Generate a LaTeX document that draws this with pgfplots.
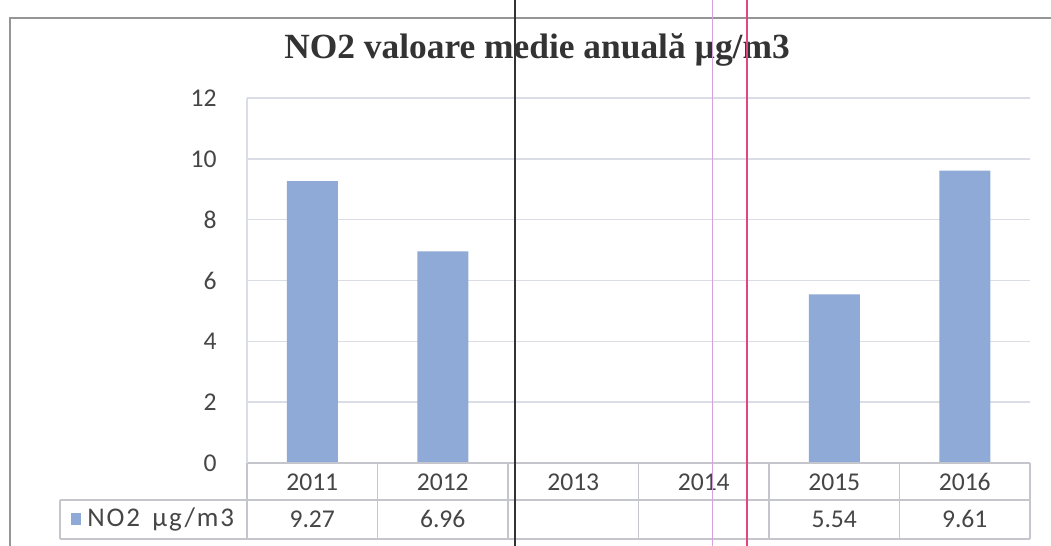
\documentclass[border=0pt]{standalone}
\usepackage{pgfplots}
\pgfplotsset{compat=1.18}
\usepackage{fontspec}
\setmainfont{Carlito}
\newfontfamily\titlefont{Liberation Serif}
\newfontfamily\legfont[LetterSpace=7]{Carlito}
\definecolor{barblue}{RGB}{143,170,214}
\definecolor{gridc}{RGB}{218,221,230}
\definecolor{tablec}{RGB}{196,198,204}
\definecolor{txt}{RGB}{70,70,70}
\definecolor{frame}{RGB}{150,150,150}
\definecolor{scanA}{RGB}{215,160,225}
\definecolor{scanB}{RGB}{225,70,130}
\begin{document}
\begin{tikzpicture}[x=1pt,y=1pt]
\clip (0,0) rectangle (525.5,273);
\fill[white] (0,0) rectangle (525.5,273);
% outer chart frame
\draw[frame, line width=0.9pt] (5,-10) -- (5,264) -- (540,264);
% title
\node[anchor=base, text=black!80, inner sep=0pt] at (268.5,243.5)
  {\titlefont\bfseries\fontsize{17.7}{20}\selectfont NO2 valoare medie anuală µg/m3};
\begin{axis}[
  at={(123.5pt,41.5pt)}, anchor=south west,
  scale only axis, width=391.5pt, height=182.5pt,
  xmin=-0.5, xmax=5.5, ymin=0, ymax=12,
  ytick={0,2,...,12},
  xtick={0,...,5}, xticklabels={2011,2012,2013,2014,2015,2016},
  major tick length=0pt,
  axis line style={draw=none},
  ymajorgrids, grid style={gridc, line width=0.7pt},
  /pgf/number format/assume math mode=true,
  ticklabel style={font=\fontsize{12.8}{14}\selectfont, text=txt},
  yticklabel style={anchor=east, inner sep=0pt, xshift=-15pt},
  xticklabel style={anchor=center, inner sep=0pt, yshift=-9.5pt},
  clip=false,
]
\addplot[ybar, bar width=25.5pt, fill=barblue, draw=none]
  coordinates {(0,9.27) (1,6.96) (4,5.54) (5,9.61)};
\addplot[draw=none, mark=none, nodes near coords, point meta=explicit symbolic,
  nodes near coords style={anchor=center, yshift=-28pt, inner sep=0pt,
    font=\fontsize{12.8}{14}\selectfont, text=txt}]
  coordinates {(0,0) [9.27] (1,0) [6.96] (4,0) [5.54] (5,0) [9.61]};
\end{axis}
% data table lines
\begin{scope}[tablec, line width=0.7pt]
\draw (123.5,41.5) -- (515,41.5);
\draw (30,23) -- (515,23);
\draw (30,3.5) -- (515,3.5);
\draw (30,3.5) -- (30,23);
\foreach \x in {123.5,188.75,254,319.25,384.5,449.75,515}
  \draw (\x,3.5) -- (\x,41.5);
\end{scope}
\draw[gridc, line width=0.7pt] (123.5,41.5) -- (123.5,224);
% legend key in the table
\fill[barblue] (35.5,10.5) rectangle (40.5,16.5);
\node[anchor=west, inner sep=0pt, text=txt] at (43.5,13.5)
  {\legfont\fontsize{13.5}{15}\selectfont NO2\hspace{0.45em}µg/m3};
% scan artefact lines
\draw[black!80, line width=0.8pt] (257.5,-5) -- (257.5,280);
\draw[scanA, line width=0.5pt] (356,-5) -- (356,280);
\draw[scanB, line width=0.6pt] (373.5,-5) -- (373.5,280);
\end{tikzpicture}
\end{document}
